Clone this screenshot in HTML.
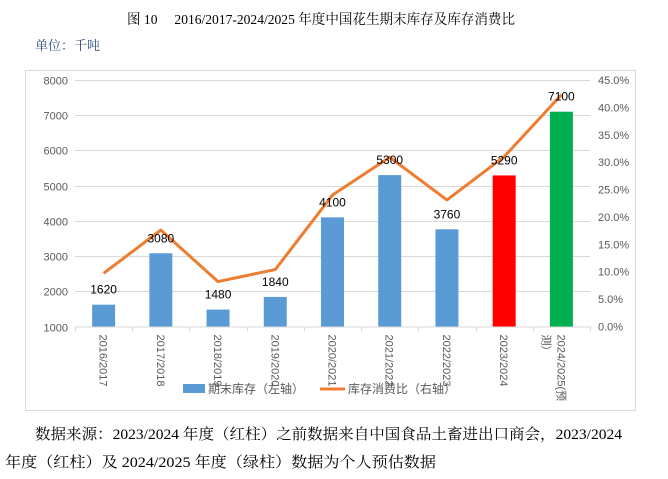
<!DOCTYPE html>
<html><head><meta charset="utf-8"><style>
body{margin:0;background:#fff;width:668px;height:474px;overflow:hidden;font-family:"Liberation Sans","Noto Sans CJK SC",sans-serif}
</style></head><body>
<svg id="c" width="668" height="474" xmlns="http://www.w3.org/2000/svg">
<text x="127" y="24" textLength="388" lengthAdjust="spacingAndGlyphs" font-size="14" font-family="Liberation Serif, Noto Serif CJK SC, serif" fill="#000">图 10　 2016/2017-2024/2025 年度中国花生期末库存及库存消费比</text>
<text x="35" y="50" font-size="13" fill="#2f4a7a" font-family="Noto Serif CJK SC, serif">单位：千吨</text>
<rect x="25.5" y="70.5" width="610" height="340" fill="none" stroke="#d9d9d9"/>
<g id="grid"></g><g id="bars"></g><g id="line"></g><g id="labels"></g>
<g>
<rect x="183" y="384" width="22" height="9" fill="#5b9bd5"/>
<text x="208" y="393" font-size="12" fill="#595959">期末库存（左轴）</text>
<line x1="320" y1="389" x2="345" y2="389" stroke="#ed7d31" stroke-width="3"/>
<text x="348" y="393" font-size="12" fill="#595959">库存消费比（右轴）</text>
</g>
<text x="35" y="439" textLength="587" lengthAdjust="spacingAndGlyphs" font-size="15" fill="#000" font-family="Liberation Serif, Noto Serif CJK SC, serif">数据来源：2023/2024 年度（红柱）之前数据来自中国食品土畜进出口商会，2023/2024</text>
<text x="5" y="467" textLength="431" lengthAdjust="spacingAndGlyphs" font-size="15" fill="#000" font-family="Liberation Serif, Noto Serif CJK SC, serif">年度（红柱）及 2024/2025 年度（绿柱）数据为个人预估数据</text>
</svg>
<script>
const categories=["2016/2017","2017/2018","2018/2019","2019/2020","2020/2021","2021/2022","2022/2023","2023/2024","2024/2025(预测)"];
const stock=[1620,3080,1480,1840,4100,5300,3760,5290,7100];
const ratio=[9.7,17.6,8.2,10.4,24.0,30.9,23.1,31.0,42.3];
const barColors=["#5b9bd5","#5b9bd5","#5b9bd5","#5b9bd5","#5b9bd5","#5b9bd5","#5b9bd5","#ff0000","#00b050"];
const leftTicks=[1000,2000,3000,4000,5000,6000,7000,8000];
const rightTicks=[0,5,10,15,20,25,30,35,40,45];
const NS="http://www.w3.org/2000/svg";
const X0=75,X1=590,Y0=326.5,Y1=80;
const bw=(X1-X0)/categories.length;
const yL=v=>Y0-(v-1000)/7000*(Y0-Y1);
const yR=v=>Y0-v/45*(Y0-Y1);
const xC=i=>X0+bw*(i+0.5);
function mk(t,a,p){const e=document.createElementNS(NS,t);for(const k in a)e.setAttribute(k,a[k]);p.appendChild(e);return e;}
const g=document.getElementById('grid');
leftTicks.forEach(v=>{
 const y=Math.round(yL(v))+0.5;
 if(v>1000){const l=mk('line',{x1:X0,x2:X1,y1:y,y2:y,stroke:'#d9d9d9'},g);
 
 }
 const t=mk('text',{x:68,y:y+4,'text-anchor':'end','font-size':11,fill:'#595959'},g);t.textContent=v;
 
 
});
rightTicks.forEach(v=>{
 const t=mk('text',{x:598,y:yR(v)+4,'font-size':11,fill:'#595959'},g);t.textContent=v.toFixed(1)+'%';
 
 
});
const ax=mk('line',{x1:X0,x2:X1,y1:Y0+0.5,y2:Y0+0.5,stroke:'#d9d9d9'},g);


for(let i=0;i<=categories.length;i++){const x=Math.round(X0+bw*i)+0.5;
 const tk=mk('line',{x1:x,x2:x,y1:Y0,y2:Y0+5,stroke:'#d9d9d9'},g);
 
 }
const B=document.getElementById('bars'),L=document.getElementById('labels');
categories.forEach((c,i)=>{
 const x=xC(i),y=yL(stock[i]);
 const r=mk('rect',{x:x-11.5,y:y,width:23,height:Y0-y,fill:barColors[i]},B);
 
 
 const t=mk('text',{x:x,y:y-11,'text-anchor':'middle','font-size':12,fill:'#000'},L);t.textContent=stock[i];
 
 
 const xt=mk('text',{x:0,y:0,'font-size':11,fill:'#595959',transform:`translate(${x-4},${Y0+8}) rotate(90)`},L);
 
 
 if(c.indexOf('(')>0){
  const s1=mk('tspan',{x:0,y:0},xt);s1.textContent=c.slice(0,11);
  const s2=mk('tspan',{x:0,y:15},xt);s2.textContent='测）';
 } else xt.textContent=c;
});
const pts=ratio.map((v,i)=>xC(i)+','+yR(v)).join(' ');
const pl=mk('polyline',{points:pts,fill:'none',stroke:'#ed7d31','stroke-width':3,'stroke-linejoin':'round'},document.getElementById('line'));


</script>
</body></html>
